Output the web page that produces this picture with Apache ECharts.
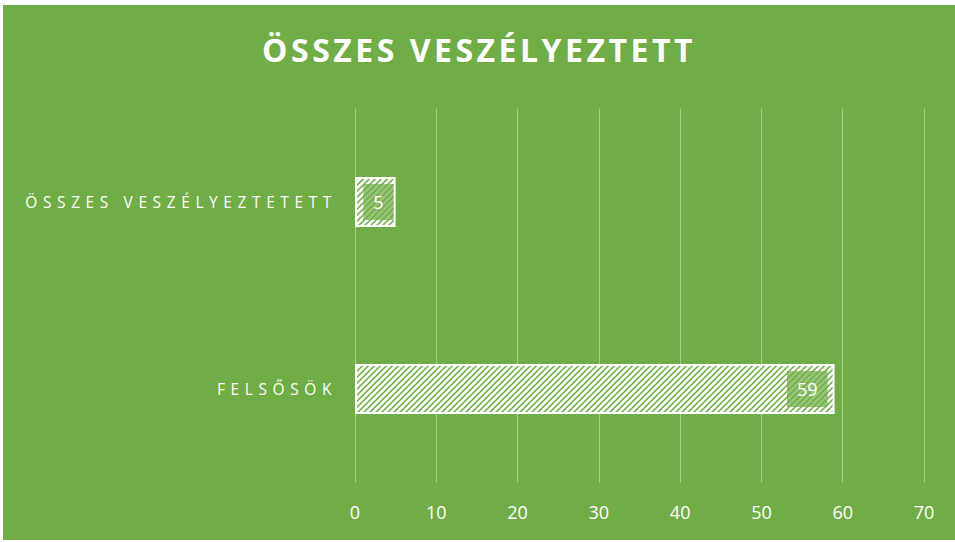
<!DOCTYPE html>
<html><head><meta charset="utf-8">
<script src="https://cdn.jsdelivr.net/npm/echarts@6/dist/echarts.min.js"></script>
<style>
html,body{margin:0;padding:0;background:#fff;width:955px;height:542px;overflow:hidden}
#chart{position:absolute;left:3px;top:5px;width:952px;height:535px}
</style></head>
<body><div id="chart"></div>
<script>
const titleText = 'ÖSSZES VESZÉLYEZTETT';
const categories = ['ÖSSZES VESZÉLYEZTETETT', 'FELSŐSÖK'];
const values = [5, 59];
const axisMin = 0, axisMax = 70, axisStep = 10;

const GREEN = '#70AD47';
// diagonal stripe pattern (wide upward diagonal)
const pc = document.createElement('canvas');
pc.width = 6; pc.height = 6;
const px = pc.getContext('2d');
px.fillStyle = '#ffffff'; px.fillRect(0, 0, 6, 6);
for (let y = 0; y < 6; y++) {
  px.fillStyle = GREEN;
  px.fillRect((5 - y + 6) % 6, y, 1, 1);
  px.fillStyle = '#8fc06e';
  px.fillRect((6 - y + 6) % 6, y, 1, 1);
  px.fillStyle = '#c5e0b4';
  px.fillRect((4 - y + 6) % 6, y, 1, 1);
}

const labelDist = [2, 7];
const chart = echarts.init(document.getElementById('chart'), null, {renderer: 'svg'});
chart.setOption({
  animation: false,
  backgroundColor: GREEN,
  title: {
    text: titleText, left: 'center', top: 23,
    textStyle: {color: '#fff', fontSize: 32, fontWeight: 'bold', fontFamily: 'Open Sans'}
  },
  grid: {left: 352, right: 31, top: 103.5, bottom: 57.5},
  xAxis: {
    type: 'value', min: axisMin, max: axisMax, interval: axisStep,
    axisLine: {show: false}, axisTick: {show: false},
    splitLine: {lineStyle: {color: 'rgba(255,255,255,0.4)', width: 1}},
    axisLabel: {color: '#fff', fontSize: 18, fontFamily: 'Open Sans', margin: 20}
  },
  yAxis: {
    type: 'category', data: categories, inverse: true,
    axisLine: {show: false}, axisTick: {show: false},
    axisLabel: {color: '#fff', fontSize: 15.5, fontFamily: 'Open Sans', margin: 18}
  },
  series: [{
    type: 'bar', barWidth: 50, silent: true,
    data: values.map((v, i) => ({value: v, label: {distance: labelDist[i]}})),
    itemStyle: {color: {image: pc, repeat: 'repeat'}, borderColor: '#fff', borderWidth: 2},
    label: {
      show: true, position: 'insideRight', color: '#fff', fontSize: 18, fontFamily: 'Open Sans',
      backgroundColor: 'rgba(112,173,71,0.72)', padding: [9, 10]
    }
  }]
});
function spacing() {
  document.querySelectorAll('#chart text').forEach(t => {
    const s = t.textContent;
    if (s === titleText) { t.style.letterSpacing = '3.5px'; }
    else if (categories.includes(s)) t.style.letterSpacing = '5.6px';
  });
}
chart.on('finished', spacing);
setTimeout(spacing, 50);
spacing();
</script>
</body></html>
